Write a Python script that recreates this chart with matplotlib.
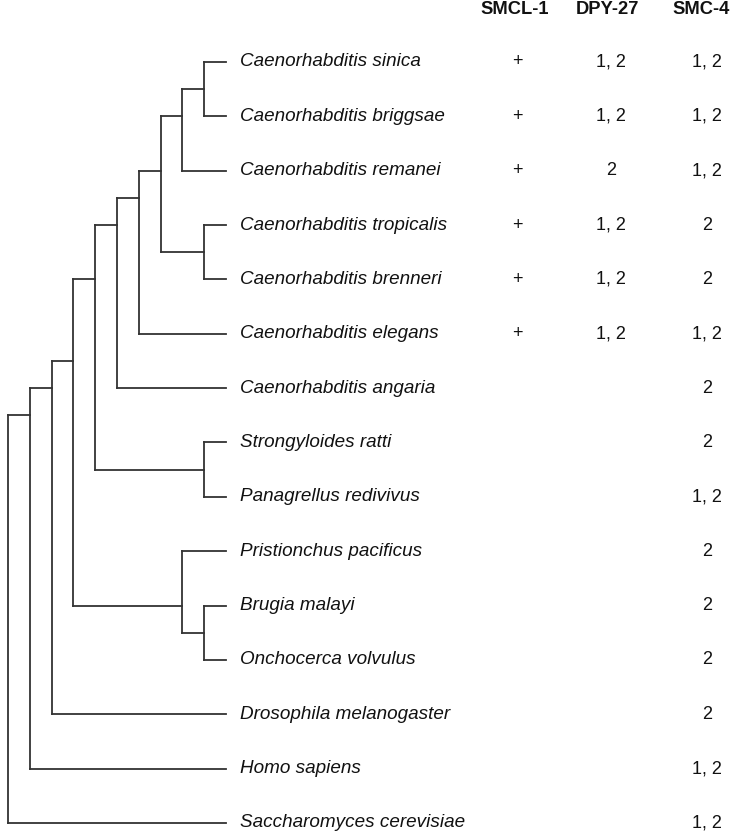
import matplotlib
matplotlib.use("Agg")
import matplotlib.pyplot as plt

# ---- data ----
species = [
    "Caenorhabditis sinica", "Caenorhabditis briggsae", "Caenorhabditis remanei",
    "Caenorhabditis tropicalis", "Caenorhabditis brenneri", "Caenorhabditis elegans",
    "Caenorhabditis angaria", "Strongyloides ratti", "Panagrellus redivivus",
    "Pristionchus pacificus", "Brugia malayi", "Onchocerca volvulus",
    "Drosophila melanogaster", "Homo sapiens", "Saccharomyces cerevisiae",
]
# tree topology using leaf indices
tree = ((((((((((0, 1), 2), (3, 4)), 5), 6), (7, 8)), (9, (10, 11))), 12), 13), 14)
columns = ["SMCL-1", "DPY-27", "SMC-4"]
smcl1 = ["+", "+", "+", "+", "+", "+", "", "", "", "", "", "", "", "", ""]
dpy27 = ["1, 2", "1, 2", "2", "1, 2", "1, 2", "1, 2", "", "", "", "", "", "", "", "", ""]
smc4 = ["1, 2", "1, 2", "1, 2", "2", "2", "1, 2", "2", "2", "1, 2", "2", "2", "2", "2", "1, 2", "1, 2"]

plt.rcParams['font.family'] = ['Liberation Sans', 'DejaVu Sans']

W, H = 731, 834
fig = plt.figure(figsize=(W / 100, H / 100), dpi=100)
ax = fig.add_axes([0, 0, 1, 1])

# pixel mapping for the layout
x0, dx = 8.0, 21.8
y0, dy = 62.0, 54.35
ax.set_xlim(-x0 / dx, (W - x0) / dx)
ax.set_ylim((H - y0) / dy, -y0 / dy)
ax.axis("off")

MAXLEVEL = 10
line_kw = dict(color="#333333", lw=1.3, solid_capstyle="projecting")


def height(node):
    if isinstance(node, int):
        return 0
    return 1 + max(height(c) for c in node)


def leaves(node):
    if isinstance(node, int):
        return [node]
    out = []
    for c in node:
        out += leaves(c)
    return out


def draw(node):
    """returns (x, y) of node"""
    if isinstance(node, int):
        return MAXLEVEL, node
    x = MAXLEVEL - height(node)
    lv = leaves(node)
    y = sum(lv) / len(lv)
    child_pos = [draw(c) for c in node]
    ys = [p[1] for p in child_pos]
    ax.plot([x, x], [min(ys), max(ys)], **line_kw)
    for cx, cy in child_pos:
        ax.plot([x, cx], [cy, cy], **line_kw)
    return x, y


draw(tree)

label_x = (240 - x0) / dx
for i, name in enumerate(species):
    ax.text(label_x, i, name, style="italic", fontsize=13.6, va="center", ha="left", color="#111111")

col_x = [(517 - x0) / dx, (611 - x0) / dx, (707 - x0) / dx]
head_x = [(514.5 - x0) / dx, (607 - x0) / dx, (701 - x0) / dx]
head_y = (10 - y0) / dy
for hx, name in zip(head_x, columns):
    ax.text(hx, head_y, name, fontsize=13.2, fontweight="bold", ha="center", va="center", color="#111111")

for cx, vals in zip(col_x, [smcl1, dpy27, smc4]):
    for i, v in enumerate(vals):
        if v:
            ax.text(cx, i, v, fontsize=13, ha="center", va="center", color="#111111")

fig.savefig("out.png", dpi=100)
